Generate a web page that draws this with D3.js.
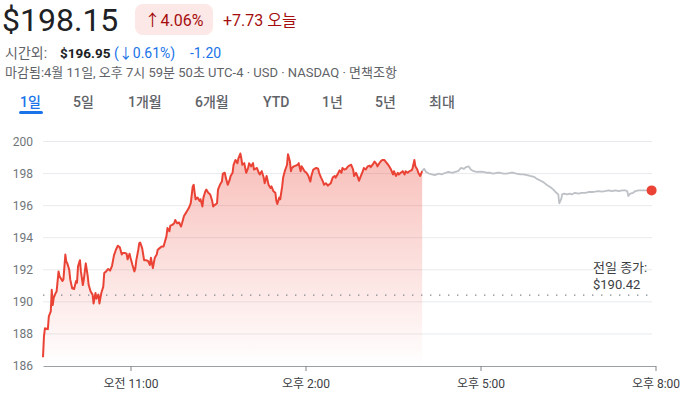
<!DOCTYPE html>
<html>
<head>
<meta charset="utf-8">
<script src="https://cdn.jsdelivr.net/npm/d3@7"></script>
<style>
  body { margin: 0; background: #fff; }
  svg { display: block; font-family: Roboto, "Noto Sans CJK KR", sans-serif; }
</style>
</head>
<body>
<script>
// minutes after 9:30, price
const sessionData = [
  [0,186.55],[1,187.85],[2,188.35],[5,188.3],[6,189.1],[8,189.4],[9,190.75],[10,189.8],[11,190.25],[13,190.55],
  [14,190.65],[16,191.9],[17,191.6],[20,191.3],[21,191.4],[23,192.95],[24,192.5],[25,192.4],[27,192.0],[28,191.4],
  [30,190.85],[32,190.8],[34,191.3],[35,191.2],[36,192.2],[38,192.6],[39,191.9],[41,191.05],[42,191.4],[44,192.4],
  [46,191.6],[47,191.05],[49,190.65],[51,190.45],[52,189.9],[54,190.55],[55,190.2],[57,190.45],[58,189.9],[60,190.55],
  [62,190.95],[63,191.8],[65,191.9],[67,192.05],[69,191.95],[71,192.25],[73,192.9],[75,193.25],[77,193.5],[79,193.4],
  [81,192.95],[82,193.05],[84,193.05],[86,193.0],[87,192.65],[89,193.0],[90,192.75],[92,192.3],[94,191.9],[95,192.1],
  [96,192.6],[98,193.25],[99,193.65],[100,193.7],[102,193.35],[104,192.6],[106,192.6],[108,192.55],[110,192.3],[111,192.75],
  [113,192.1],[115,192.75],[117,192.95],[118,193.25],[120,193.35],[122,193.45],[124,193.45],[127,194.1],[128,194.6],[130,194.4],
  [131,194.75],[133,194.8],[135,194.9],[136,195.1],[138,194.9],[140,194.95],[142,194.7],[143,194.9],[145,195.35],[147,195.55],
  [148,195.65],[150,195.85],[152,196.15],[154,197.2],[155,197.3],[156,196.8],[157,196.4],[159,196.5],[161,196.3],[162,196.4],
  [164,195.95],[165,196.5],[167,196.9],[168,197.0],[170,196.8],[172,196.7],[174,196.3],[175,195.95],[177,196.05],[179,196.15],
  [180,197.0],[182,197.3],[184,197.5],[185,198.0],[187,198.05],[188,197.75],[190,197.3],[192,197.6],[193,197.85],[195,198.05],
  [196,198.55],[198,198.85],[200,198.65],[201,198.95],[203,199.25],[204,198.95],[205,198.55],[207,198.65],[209,198.05],[211,198.35],
  [212,198.65],[214,198.45],[216,198.65],[217,198.25],[220,198.35],[222,198.05],[223,197.95],[225,198.15],[227,197.75],[228,197.4],
  [230,197.85],[232,197.3],[234,197.1],[235,197.2],[237,196.9],[239,196.8],[240,196.3],[241,196.1],[243,196.5],[244,196.4],
  [246,197.2],[247,197.75],[249,198.2],[251,198.55],[252,199.2],[254,198.75],[255,198.15],[256,198.35],[258,198.45],[260,198.5],
  [262,198.55],[263,198.65],[265,198.15],[266,198.45],[268,198.25],[269,198.15],[271,198.05],[273,197.85],[275,197.5],[276,197.85],
  [278,198.25],[281,198.35],[283,198.3],[284,198.05],[286,197.75],[288,197.5],[289,197.3],[291,197.4],[293,197.25],[294,197.3],
  [296,197.4],[298,197.75],[300,197.85],[301,197.75],[303,197.95],[305,198.2],[307,198.05],[308,198.35],[310,198.25],[312,198.3],
  [313,198.4],[315,198.5],[317,198.55],[319,198.25],[320,197.85],[322,198.05],[324,197.75],[325,197.55],[327,197.85],[329,198.15],
  [330,198.35],[332,198.25],[334,198.45],[336,198.5],[337,198.4],[339,198.55],[341,198.75],[343,198.6],[344,198.45],[346,198.65],
  [348,198.8],[349,198.85],[351,198.85],[353,198.7],[355,198.55],[356,198.45],[358,198.25],[360,197.95],[361,198.15],[363,197.85],
  [365,198.05],[366,197.95],[368,198.05],[370,198.15],[372,197.95],[373,198.15],[375,198.05],[377,198.15],[379,198.2],[380,198.3],
  [382,198.85],[383,198.45],[385,198.25],[386,198.05],[388,197.85],[390,198.15]
];

const afterHoursData = [
  [390,198.15],[392,198.3],[394,198.1],[397,198.0],[400,197.95],[403,197.9],[407,198.0],[410,197.95],[414,198.05],[417,198.1],
  [421,198.05],[424,198.1],[427,198.15],[430,198.35],[433,198.3],[435,198.4],[438,198.45],[440,198.25],[443,198.15],[446,198.1],
  [450,198.12],[453,198.1],[457,198.05],[460,198.05],[463,198.0],[467,198.05],[470,198.05],[474,198.0],[477,198.0],[481,198.05],
  [484,198.05],[487,198.0],[491,197.95],[494,197.95],[498,197.9],[501,197.85],[505,197.8],[508,197.67],[511,197.58],[515,197.45],
  [518,197.3],[522,197.15],[525,197.0],[528,196.8],[530,196.7],[531,196.15],[533,196.4],[534,196.7],[536,196.75],[539,196.7],
  [542,196.75],[544,196.7],[547,196.8],[551,196.75],[554,196.8],[558,196.8],[561,196.85],[565,196.85],[568,196.87],[571,196.9],
  [575,196.87],[578,196.9],[582,196.95],[585,196.9],[589,196.95],[592,196.9],[596,196.95],[599,196.95],[601,196.9],[602,196.6],
  [604,196.75],[607,196.8],[609,196.9],[613,196.95],[616,196.95],[619,196.95],[623,196.95],[626,196.95]
];

const yTicks = [186, 188, 190, 192, 194, 196, 198, 200];
const xTickMinutes = [90, 270, 450, 630];
const xTickLabels = ["오전 11:00", "오후 2:00", "오후 5:00", "오후 8:00"];
const previousClose = 190.42;
const tabLabels = ["1일", "5일", "1개월", "6개월", "YTD", "1년", "5년", "최대"];
const tabX = [20, 73, 128, 195, 263, 322, 375, 429];

const red = "#ea4335";
const darkRed = "#a50e0e";
const blue = "#1a73e8";
const gray = "#5f6368";

const svg = d3.select("body").append("svg")
    .attr("width", 684)
    .attr("height", 397);

// header
svg.append("text").attr("x", 2).attr("y", 31)
    .attr("font-size", 32).attr("fill", "#202124").text("$198.15");

svg.append("rect").attr("x", 135).attr("y", 4).attr("width", 78).attr("height", 31)
    .attr("rx", 8).attr("fill", "#fce8e6");
svg.append("text").attr("x", 174).attr("y", 26).attr("text-anchor", "middle")
    .attr("font-size", 16).attr("fill", darkRed).text("↑4.06%");
svg.append("text").attr("x", 223).attr("y", 26)
    .attr("font-size", 16).attr("fill", darkRed).text("+7.73 오늘");

// after hours line
svg.append("text").attr("x", 5).attr("y", 58).attr("font-size", 14)
    .attr("fill", gray).text("시간외:");
svg.append("text").attr("x", 60).attr("y", 58).attr("font-size", 13.5)
    .attr("font-weight", 700).attr("fill", "#202124").text("$196.95");
svg.append("text").attr("x", 114).attr("y", 58).attr("font-size", 14)
    .attr("fill", blue).text("(↓0.61%)");
svg.append("text").attr("x", 190).attr("y", 58).attr("font-size", 14)
    .attr("fill", blue).text("-1.20");

svg.append("text").attr("x", 5).attr("y", 77)
    .attr("font-size", 13).attr("fill", gray)
    .text("마감됨:4월 11일, 오후 7시 59분 50초 UTC-4 · USD · NASDAQ · 면책조항");

// tabs
svg.selectAll(".tab").data(tabLabels).enter().append("text")
    .attr("class", "tab")
    .attr("x", (d, i) => tabX[i])
    .attr("y", 107)
    .attr("font-size", 14)
    .attr("font-weight", 500)
    .attr("fill", (d, i) => i == 0 ? blue : gray)
    .text(d => d);
svg.append("rect").attr("x", 19).attr("y", 111).attr("width", 24).attr("height", 3)
    .attr("rx", 1.5).attr("fill", blue);

// chart
const x = d3.scaleLinear().domain([0, 630]).range([43, 655.5]);
const y = d3.scaleLinear().domain([186, 200]).range([366, 141.5]);

svg.append("g").selectAll("line").data(yTicks.slice(1)).enter().append("line")
    .attr("x1", x(0)).attr("x2", 652)
    .attr("y1", d => y(d)).attr("y2", d => y(d))
    .attr("stroke", "#e8eaed").attr("stroke-width", 1);

svg.append("g").selectAll("text").data(yTicks).enter().append("text")
    .attr("x", 33).attr("y", d => y(d)).attr("dy", "0.35em")
    .attr("text-anchor", "end").attr("font-size", 12).attr("fill", "#70757a")
    .text(d => d);

const grad = svg.append("defs").append("linearGradient")
    .attr("id", "fillGrad").attr("gradientUnits", "userSpaceOnUse")
    .attr("x1", 0).attr("x2", 0).attr("y1", y(200)).attr("y2", y(186));
grad.append("stop").attr("offset", "0%").attr("stop-color", red).attr("stop-opacity", 0.36);
grad.append("stop").attr("offset", "100%").attr("stop-color", red).attr("stop-opacity", 0);

svg.append("path").datum(sessionData)
    .attr("d", d3.area().x(d => x(d[0])).y0(y(186)).y1(d => y(d[1])))
    .attr("fill", "url(#fillGrad)");

svg.append("line")
    .attr("x1", x(0)).attr("x2", 648)
    .attr("y1", y(previousClose)).attr("y2", y(previousClose))
    .attr("stroke", "#80868b").attr("stroke-width", 1.4)
    .attr("stroke-dasharray", "1.4,7.6");

svg.append("path").datum(afterHoursData)
    .attr("d", d3.line().x(d => x(d[0])).y(d => y(d[1])))
    .attr("fill", "none").attr("stroke", "#bdc1c6").attr("stroke-width", 1.8)
    .attr("stroke-linejoin", "round");

svg.append("path").datum(sessionData)
    .attr("d", d3.line().x(d => x(d[0])).y(d => y(d[1])))
    .attr("fill", "none").attr("stroke", red).attr("stroke-width", 2)
    .attr("stroke-linejoin", "round");

const last = afterHoursData[afterHoursData.length - 1];
svg.append("circle").attr("cx", x(last[0])).attr("cy", y(last[1])).attr("r", 5).attr("fill", red);

let pc = svg.append("text").attr("x", 593).attr("font-size", 13).attr("fill", "#3c4043");
pc.append("tspan").attr("x", 593).attr("y", 272).text("전일 종가:");
pc.append("tspan").attr("x", 593).attr("y", 289).text("$" + previousClose.toFixed(2));

const xAxis = svg.append("g")
    .attr("transform", "translate(0," + y(186) + ")")
    .call(d3.axisBottom(x)
        .tickValues(xTickMinutes)
        .tickFormat((d, i) => xTickLabels[i])
        .tickSize(5)
        .tickSizeOuter(0)
        .tickPadding(8));
xAxis.select(".domain").attr("stroke", "#9aa0a6");
xAxis.selectAll(".tick line").attr("stroke", "#80868b");
xAxis.selectAll(".tick text")
    .attr("font-size", 12)
    .attr("font-family", 'Roboto, "Noto Sans CJK KR", sans-serif')
    .attr("fill", "#3c4043");
</script>
</body>
</html>
